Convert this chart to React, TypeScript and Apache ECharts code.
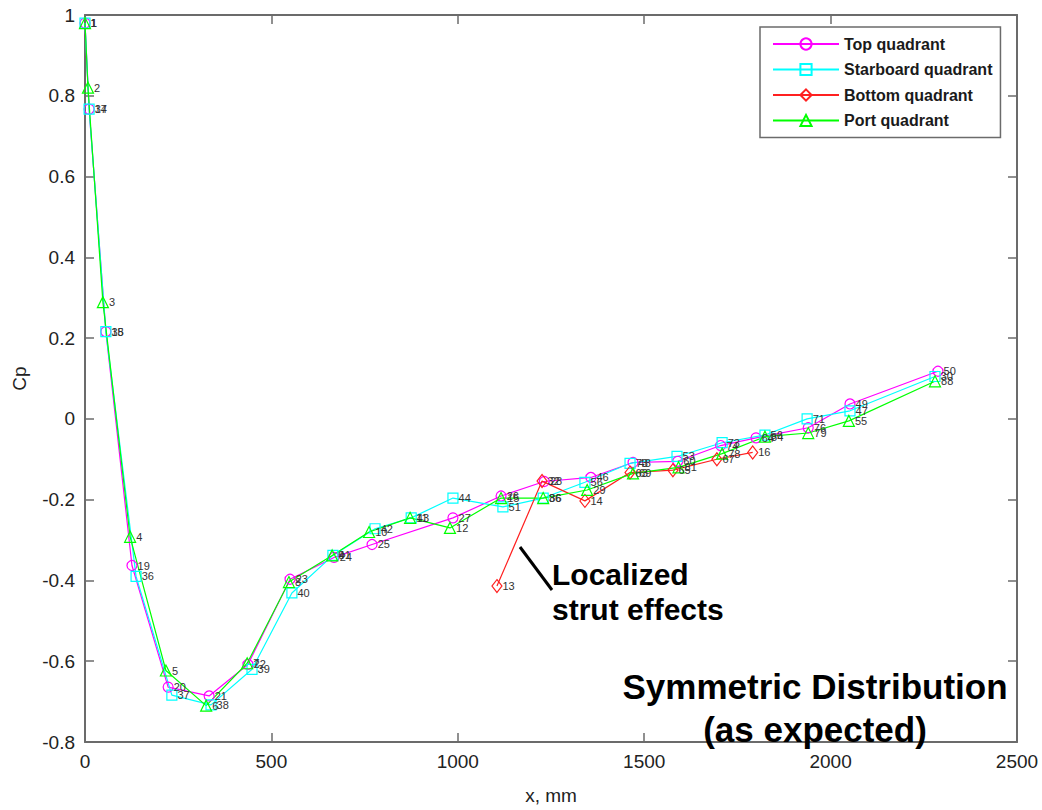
import { useEffect, useRef } from "react";
import * as echarts from "echarts";

const FONT = "'Liberation Sans', Arial, Helvetica, sans-serif";

// Top quadrant (magenta, circles)
const topX = [0, 11, 56, 126, 223, 333, 437, 550, 668, 770, 987, 1116, 1232, 1357, 1470, 1590, 1705, 1800, 1940, 2052, 2288];
const topY = [0.98, 0.767, 0.216, -0.363, -0.664, -0.686, -0.608, -0.397, -0.343, -0.311, -0.245, -0.191, -0.155, -0.145, -0.108, -0.105, -0.066, -0.047, -0.022, 0.037, 0.118];
const topLabels = ["1", "17", "18", "19", "20", "21", "22", "23", "24", "25", "27", "26", "28", "46", "48", "60", "74", "64", "76", "49", "50"];

// Starboard quadrant (cyan, squares)
const stbX = [0, 11, 56, 137, 233, 338, 448, 555, 665, 778, 875, 987, 1121, 1229, 1341, 1462, 1588, 1709, 1824, 1937, 2052, 2280];
const stbY = [0.98, 0.767, 0.216, -0.39, -0.684, -0.708, -0.62, -0.431, -0.338, -0.272, -0.245, -0.196, -0.218, -0.196, -0.157, -0.11, -0.093, -0.059, -0.04, 0.0, 0.02, 0.105];
const stbLabels = ["1", "34", "35", "36", "37", "38", "39", "40", "41", "42", "43", "44", "51", "36", "56", "73", "53", "73", "56", "71", "47", "30"];

// Bottom quadrant (red, diamonds)
const botX = [1105, 1226, 1341, 1462, 1577, 1695, 1791];
const botY = [-0.414, -0.154, -0.203, -0.133, -0.127, -0.1, -0.083];
const botLabels = ["13", "32", "14", "63", "65", "67", "16"];

// Port quadrant (green, triangles)
const portX = [0, 8, 48, 121, 217, 325, 435, 547, 663, 762, 872, 979, 1116, 1229, 1347, 1470, 1592, 1709, 1824, 1940, 2049, 2280];
const portY = [0.98, 0.82, 0.289, -0.292, -0.623, -0.71, -0.605, -0.404, -0.338, -0.28, -0.245, -0.27, -0.196, -0.196, -0.176, -0.135, -0.12, -0.086, -0.044, -0.035, -0.005, 0.093];
const portLabels = ["1", "2", "3", "4", "5", "6", "7", "8", "9", "10", "11", "12", "15", "86", "29", "69", "81", "78", "84", "79", "55", "88"];

const xTicks = { min: 0, max: 2500, interval: 500 };
const yTicks = { min: -0.8, max: 1, interval: 0.2 };

const AXIS_COLOR = "#6b6b6b";

function makeSeries(
  name: string,
  xs: number[],
  ys: number[],
  labels: string[],
  color: string,
  symbol: string,
  size: number | number[]
) {
  return {
    name,
    type: "line",
    data: xs.map((x, i) => [x, ys[i]]),
    symbol,
    symbolSize: size,
    showAllSymbol: true,
    lineStyle: { color, width: 1.2 },
    itemStyle: { color: "rgba(255,255,255,0)", borderColor: color, borderWidth: 1.2 },
    label: {
      show: true,
      position: "right",
      distance: 0,
      formatter: (p: any) => labels[p.dataIndex],
      fontSize: 11,
      color: "#333",
      fontFamily: FONT,
    },
    emphasis: { disabled: true },
  };
}

export default function App() {
  const ref = useRef<HTMLDivElement>(null);
  useEffect(() => {
    const chart = echarts.init(ref.current!, null, { renderer: "svg" });
    const axisLine = { show: true, onZero: false, lineStyle: { color: AXIS_COLOR, width: 2 } };
    const axisTick = { show: true, inside: true, length: 9, lineStyle: { color: AXIS_COLOR, width: 1.5 } };
    const option: any = {
      animation: false,
      backgroundColor: "#fff",
      textStyle: { fontFamily: FONT },
      grid: { left: 85, top: 15, width: 932, height: 734 },
      xAxis: [
        {
          type: "value",
          ...xTicks,
          position: "bottom",
          name: "x, mm",
          nameLocation: "middle",
          nameGap: 44,
          nameTextStyle: { fontSize: 19, color: "#222", fontFamily: FONT },
          axisLine,
          axisTick,
          axisLabel: {
            fontSize: 19,
            color: "#222",
            margin: 10,
            fontFamily: FONT,
            formatter: (v: number) => String(v),
          },
          splitLine: { show: false },
        },
        {
          type: "value",
          ...xTicks,
          position: "top",
          axisLine,
          axisTick,
          axisLabel: { show: false },
          splitLine: { show: false },
        },
      ],
      yAxis: [
        {
          type: "value",
          ...yTicks,
          position: "left",
          name: "Cp",
          nameLocation: "middle",
          nameGap: 56,
          nameRotate: 90,
          nameTextStyle: { fontSize: 19, color: "#222", fontFamily: FONT },
          axisLine,
          axisTick,
          axisLabel: { fontSize: 19, color: "#222", margin: 10, fontFamily: FONT },
          splitLine: { show: false },
        },
        {
          type: "value",
          ...yTicks,
          position: "right",
          axisLine,
          axisTick,
          axisLabel: { show: false },
          splitLine: { show: false },
        },
      ],
      legend: {
        orient: "vertical",
        left: 760,
        top: 27,
        padding: [9, 8, 9, 12],
        itemGap: 9.5,
        itemWidth: 66,
        itemHeight: 14,
        backgroundColor: "#fff",
        borderColor: "#6b6b6b",
        borderWidth: 1.5,
        borderRadius: 0,
        textStyle: { fontSize: 16, fontWeight: "bold", color: "#1a1a1a", fontFamily: FONT },
        data: ["Top quadrant", "Starboard quadrant", "Bottom quadrant", "Port quadrant"],
      },
      series: [
        makeSeries("Top quadrant", topX, topY, topLabels, "#ff00ff", "circle", 10),
        makeSeries("Starboard quadrant", stbX, stbY, stbLabels, "#00ffff", "rect", 10),
        makeSeries("Bottom quadrant", botX, botY, botLabels, "#ff2020", "diamond", [10, 13]),
        makeSeries("Port quadrant", portX, portY, portLabels, "#00ff00", "triangle", 11),
      ],
      graphic: [
        {
          type: "line",
          shape: { x1: 520, y1: 547, x2: 552, y2: 590 },
          style: { stroke: "#000", lineWidth: 3 },
          z: 100,
        },
        {
          type: "text",
          x: 552,
          y: 574,
          style: {
            text: "Localized",
            fontSize: 30,
            fontWeight: "bold",
            fontFamily: FONT,
            fill: "#000",
            verticalAlign: "middle",
          },
          z: 100,
        },
        {
          type: "text",
          x: 552,
          y: 609,
          style: {
            text: "strut effects",
            fontSize: 30,
            fontWeight: "bold",
            fontFamily: FONT,
            fill: "#000",
            verticalAlign: "middle",
          },
          z: 100,
        },
        {
          type: "text",
          x: 815,
          y: 686,
          style: {
            text: "Symmetric Distribution",
            fontSize: 35,
            fontWeight: "bold",
            fontFamily: FONT,
            fill: "#000",
            align: "center",
            verticalAlign: "middle",
          },
          z: 100,
        },
        {
          type: "text",
          x: 815,
          y: 729,
          style: {
            text: "(as expected)",
            fontSize: 35,
            fontWeight: "bold",
            fontFamily: FONT,
            fill: "#000",
            align: "center",
            verticalAlign: "middle",
          },
          z: 100,
        },
      ],
    };
    chart.setOption(option);
    return () => chart.dispose();
  }, []);
  return (
    <div
      ref={ref}
      style={{ position: "fixed", left: 0, top: 0, width: 1042, height: 810, background: "#fff" }}
    />
  );
}
